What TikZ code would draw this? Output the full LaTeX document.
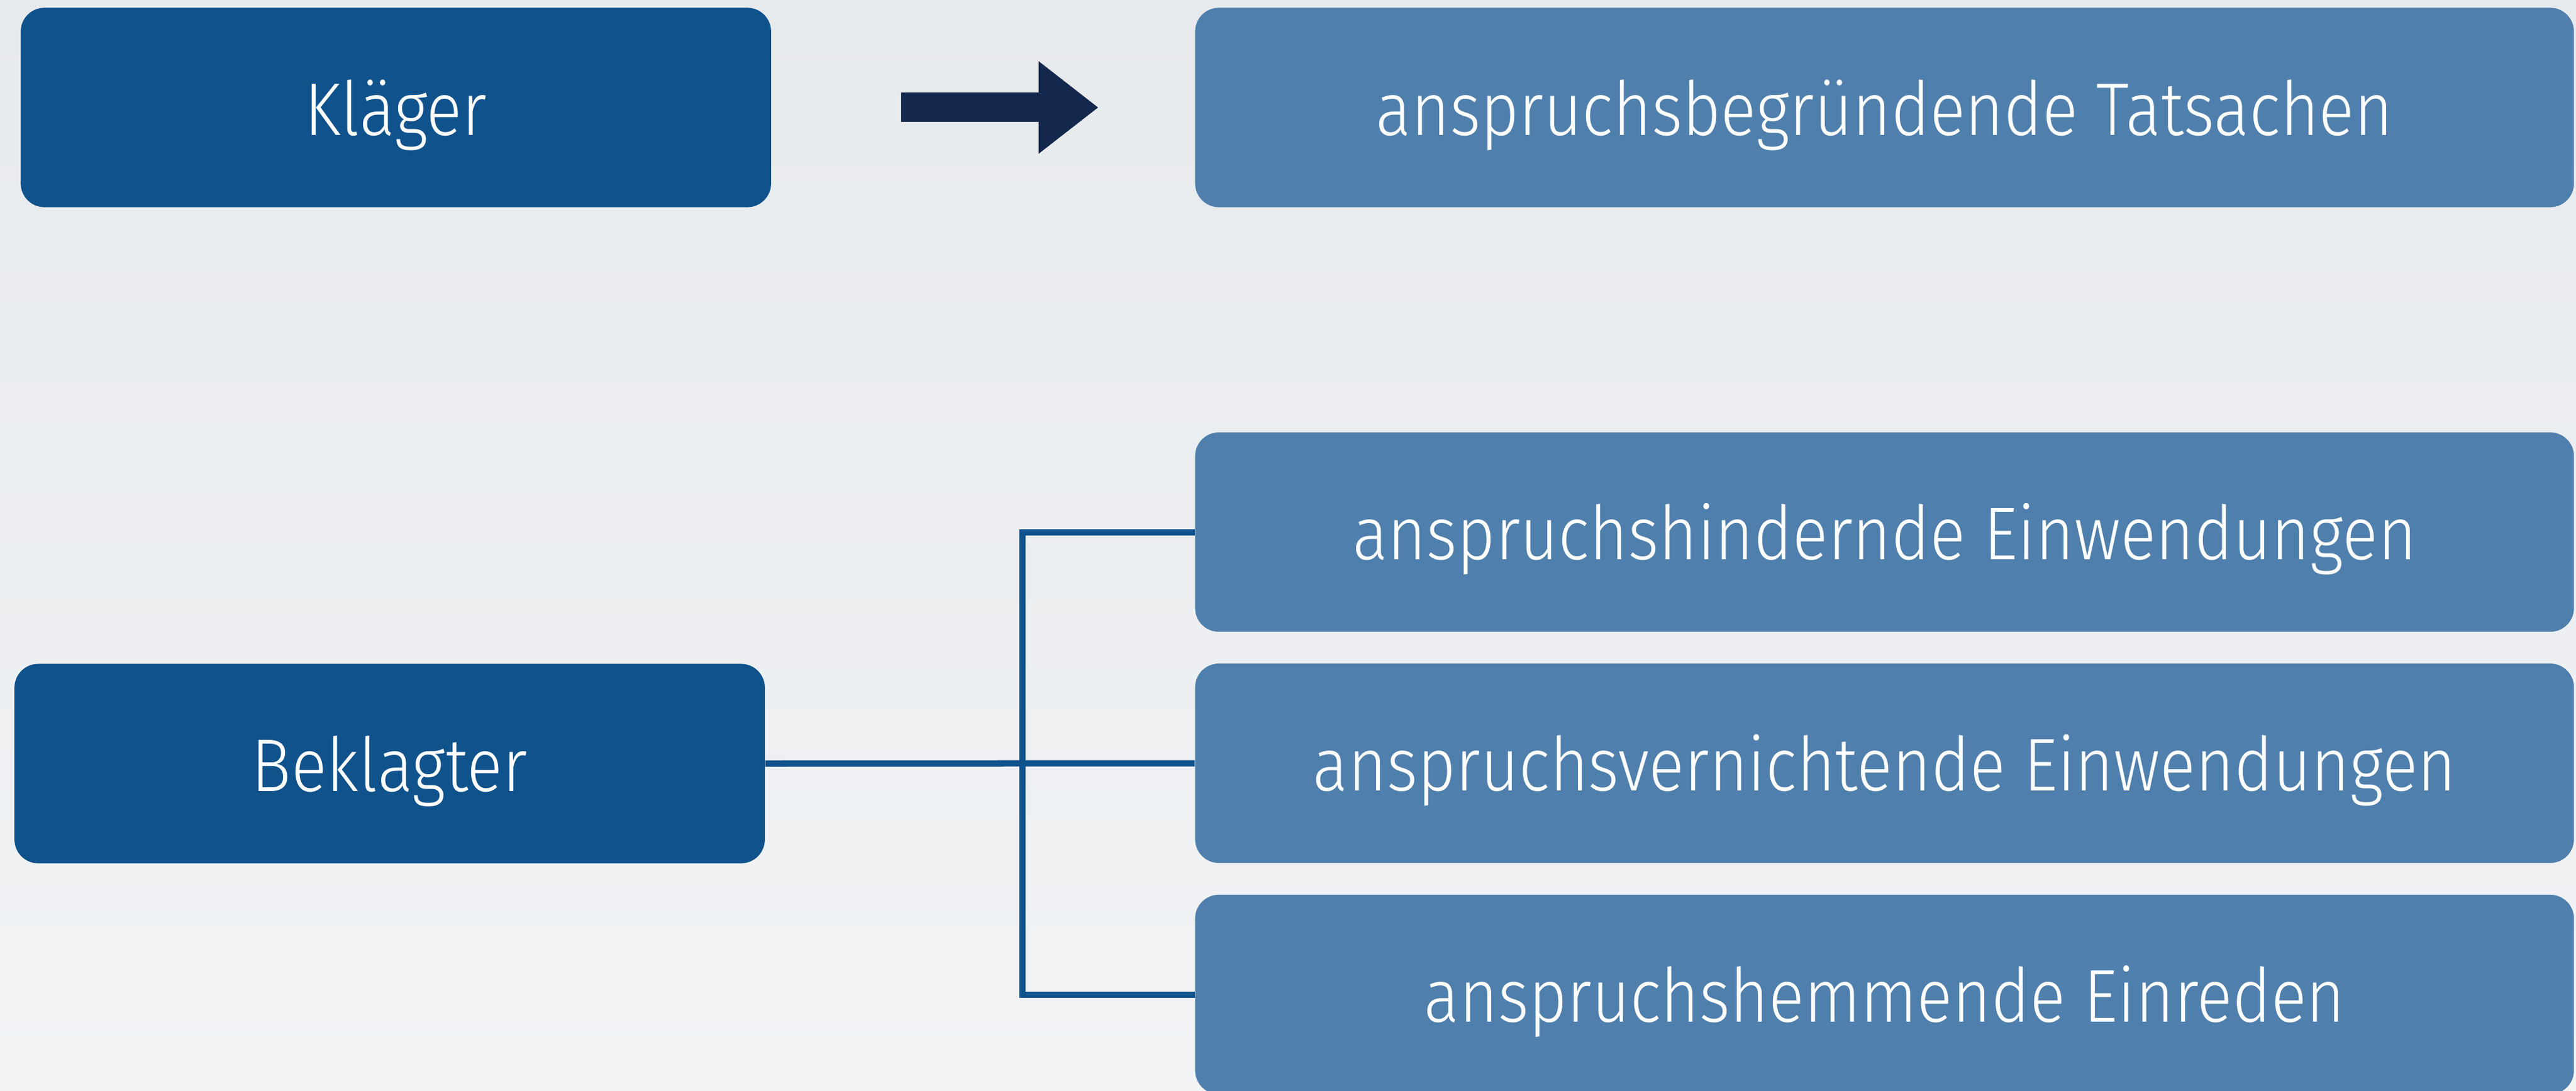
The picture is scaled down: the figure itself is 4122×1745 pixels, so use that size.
\documentclass[tikz,border=0pt]{standalone}
\usepackage{fontspec}
\setmainfont{Fira Sans Light}[FakeStretch=0.885]
\definecolor{darkbox}{HTML}{10528C}
\definecolor{lightbox}{HTML}{4F7FAC}
\definecolor{navy}{HTML}{13284C}
\definecolor{bgtop}{HTML}{E7EAED}
\definecolor{bgbot}{HTML}{F1F3F5}
\tikzset{
  box/.style={rounded corners=0.38cm, text=white, inner sep=0pt,
    text height=1.0cm, text depth=0.12cm,
    font=\fontsize{34}{40}\selectfont},
  person/.style={box, fill=darkbox, minimum width=12cm, minimum height=3.19cm},
  fact/.style={box, fill=lightbox, minimum width=22.05cm, minimum height=3.19cm},
  link/.style={draw=darkbox, line width=0.1cm}
}
\begin{document}
\begin{tikzpicture}[x=0.01cm,y=-0.01cm]
\shade[top color=bgtop, bottom color=bgbot] (0,0) rectangle (4122,1745);
\useasboundingbox (0,0) rectangle (4122,1745);
\node[person] (klaeger) at (633.5,172) {Kläger};
\node[person] (beklagter) at (623.5,1222) {Beklagter};
\node[fact] (f1) at (3015.5,172) {anspruchsbegründende Tatsachen};
\node[fact] (f2) at (3015.5,851.5) {anspruchshindernde Einwendungen};
\node[fact] (f3) at (3015.5,1221.5) {anspruchsvernichtende Einwendungen};
\node[fact] (f4) at (3015.5,1591.5) {anspruchshemmende Einreden};
\fill[navy] (1442,148) -- (1662,148) -- (1662,98) -- (1757,172) -- (1662,246) -- (1662,195) -- (1442,195) -- cycle;
\coordinate (junction) at (1636,1222);
\draw[link] (beklagter.east) -- (f3.west);
\draw[link] (f2.west) -| (junction) |- (f4.west);
\end{tikzpicture}
\end{document}
